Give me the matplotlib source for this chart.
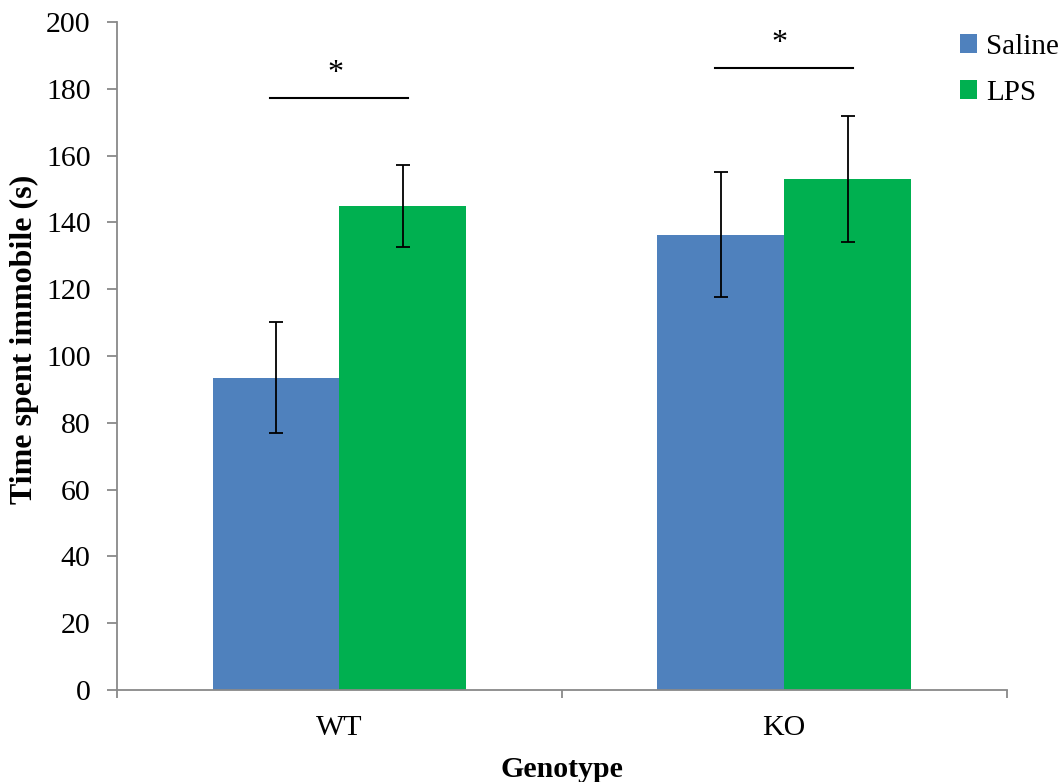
import matplotlib.pyplot as plt
import numpy as np

plt.rcParams['font.family'] = ['Liberation Serif', 'DejaVu Serif']

# データ
genotypes = ['WT', 'KO']
saline = [93.5, 136.3]
saline_err = [16.6, 18.7]
lps = [145.0, 153.0]
lps_err = [12.3, 18.8]
sig_y = [177.2, 186.2]

x = np.arange(len(genotypes))
w = 0.285

fig = plt.figure(figsize=(10.64, 7.82), dpi=100)
ax = fig.add_axes([0.110, 0.1176, 0.836, 0.8544])

ax.bar(x - w / 2, saline, w, color='#4F81BD', label='Saline',
       yerr=saline_err, capsize=5, error_kw=dict(elinewidth=1.3, capthick=1.3))
ax.bar(x + w / 2, lps, w, color='#00B050', label='LPS',
       yerr=lps_err, capsize=5, error_kw=dict(elinewidth=1.3, capthick=1.3))

# 有意差の線
for i in range(len(genotypes)):
    ax.plot([x[i] - 0.155, x[i] + 0.155], [sig_y[i], sig_y[i]], color='black', lw=1.5)
    ax.text(x[i] - 0.01, sig_y[i] + 3.0, '*', ha='center', va='bottom', fontsize=23)

ax.set_xlim(-0.5, 1.5)
ax.set_ylim(0, 200)
ax.set_yticks(range(0, 201, 20))
ax.set_xticks(x)
ax.set_xticklabels(genotypes)
ax.set_xticks([-0.5, 0.5, 1.5], minor=True)
ax.tick_params(axis='x', which='major', length=0, pad=18)
ax.tick_params(axis='x', which='minor', length=6, width=1.3, color='#898989')
ax.tick_params(axis='y', length=7, width=1.3, color='#898989', pad=12)
ax.tick_params(labelsize=21.5)

for s in ['top', 'right']:
    ax.spines[s].set_visible(False)
for s in ['left', 'bottom']:
    ax.spines[s].set_color('#898989')
    ax.spines[s].set_linewidth(1.3)

ax.set_xlabel('Genotype', fontsize=21.5, fontweight='bold', labelpad=11)
ax.set_ylabel('Time spent immobile (s)', fontsize=23, fontweight='bold')
ax.yaxis.set_label_coords(-0.088, 0.525)

fig.legend(loc='upper left', bbox_to_anchor=(0.891, 0.972), frameon=False, fontsize=21,
           handlelength=0.6, handleheight=0.6, handletextpad=0.3, labelspacing=0.7,
           borderaxespad=0)

fig.savefig('out.png', dpi=100)
